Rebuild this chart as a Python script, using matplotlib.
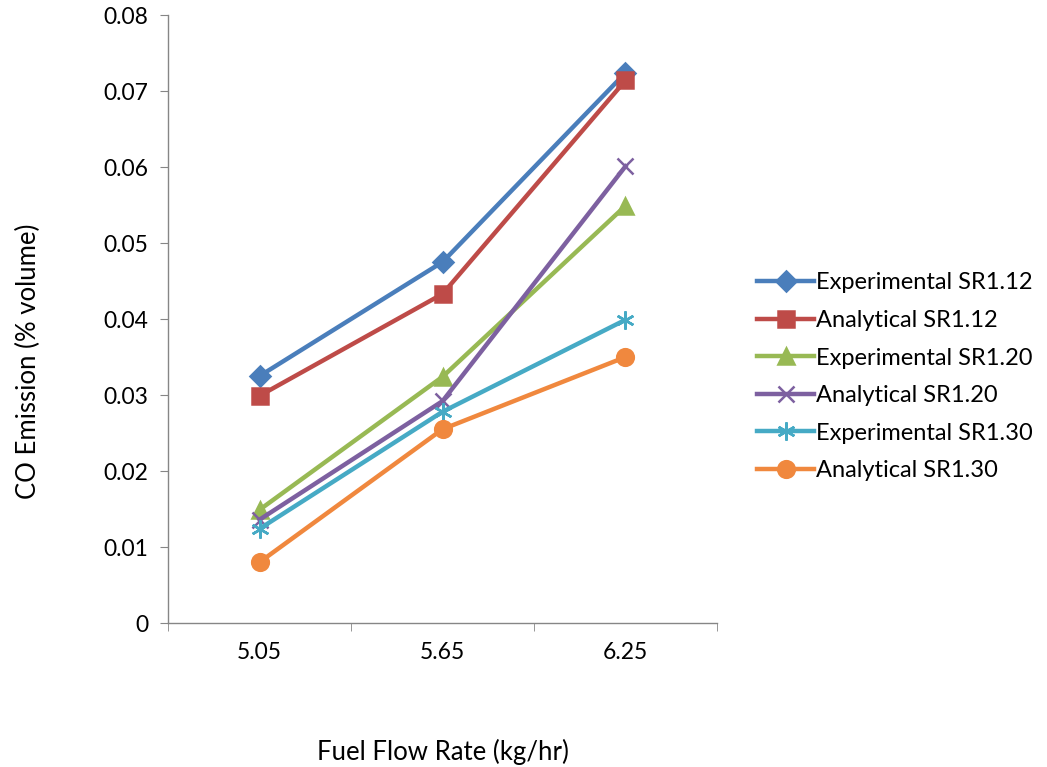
import matplotlib
matplotlib.use("Agg")
import matplotlib.pyplot as plt

plt.rcParams['font.family'] = ['Lato', 'DejaVu Sans']

# data
fuel_flow = ["5.05", "5.65", "6.25"]
exp_sr112 = [0.0325, 0.0475, 0.0724]
ana_sr112 = [0.0299, 0.0433, 0.0714]
exp_sr120 = [0.0149, 0.0324, 0.0549]
ana_sr120 = [0.0136, 0.0292, 0.0601]
exp_sr130 = [0.0124, 0.0278, 0.0399]
ana_sr130 = [0.0080, 0.0255, 0.0350]

series = [
    ("Experimental SR1.12", exp_sr112, "#4A7EBB", "D", 10),
    ("Analytical SR1.12", ana_sr112, "#BE4B48", "s", 12),
    ("Experimental SR1.20", exp_sr120, "#98B954", "^", 12),
    ("Analytical SR1.20", ana_sr120, "#7D60A0", "x", 12),
    ("Experimental SR1.30", exp_sr130, "#46AAC5", (6, 2, 0), 13),
    ("Analytical SR1.30", ana_sr130, "#F0883E", "o", 12),
]

fig = plt.figure(figsize=(10.47, 7.67), dpi=100)
ax = fig.add_axes([0.1605, 0.1877, 0.5243, 0.7927])

x = list(range(len(fuel_flow)))
for name, vals, col, mk, ms in series:
    ax.plot(x, vals, color=col, lw=3.2, marker=mk, markersize=ms,
            markeredgecolor=col, markerfacecolor=col, markeredgewidth=1.8,
            label=name)

ax.set_xlim(-0.5, 2.5)
ax.set_ylim(0, 0.08)
ax.set_yticks([0, 0.01, 0.02, 0.03, 0.04, 0.05, 0.06, 0.07, 0.08])
ax.set_yticklabels(["0", "0.01", "0.02", "0.03", "0.04", "0.05", "0.06", "0.07", "0.08"])
ax.set_xticks(x)
ax.set_xticklabels(fuel_flow)
ax.set_xticks([-0.5, 0.5, 1.5, 2.5], minor=True)
ax.tick_params(axis='x', which='major', length=0, pad=14, labelsize=16.5)
ax.tick_params(axis='x', which='minor', length=6, color='#868686', direction='out')
ax.tick_params(axis='y', length=6, color='#868686', direction='out', labelsize=16.5, pad=8)

for s in ['top', 'right']:
    ax.spines[s].set_visible(False)
for s in ['left', 'bottom']:
    ax.spines[s].set_color('#868686')
    ax.spines[s].set_linewidth(1)

ax.set_xlabel("Fuel Flow Rate (kg/hr)", fontsize=18.5, labelpad=54)
ax.set_ylabel("CO Emission (% volume)", fontsize=18.5)
ax.yaxis.set_label_coords(-0.231, 0.43)

ax.legend(loc='center left', bbox_to_anchor=(1.035, 0.405), frameon=False,
          fontsize=17, handlelength=2.4, labelspacing=0.7, handletextpad=0.1)

fig.savefig("out.png", dpi=100)
